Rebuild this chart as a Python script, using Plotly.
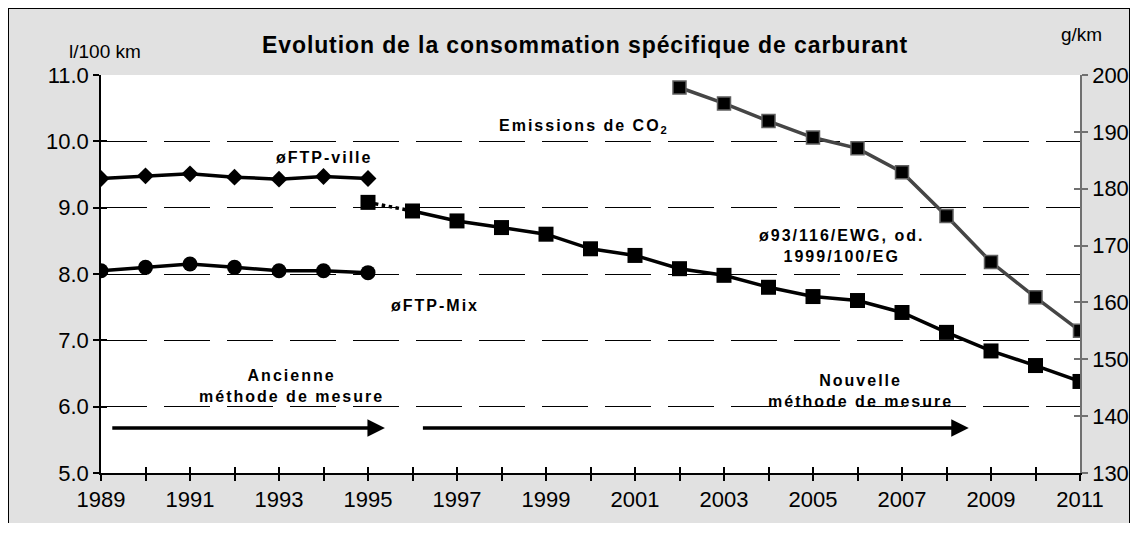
import plotly.graph_objects as go

# --- data ---
years_old = [1989, 1990, 1991, 1992, 1993, 1994, 1995]
ftp_ville = [9.44, 9.48, 9.51, 9.46, 9.43, 9.47, 9.44]
ftp_mix = [8.05, 8.10, 8.15, 8.10, 8.05, 8.05, 8.02]

years_new = list(range(1995, 2012))
conso_new = [9.08, 8.95, 8.80, 8.70, 8.60, 8.38, 8.28, 8.08, 7.98, 7.80,
             7.66, 7.60, 7.42, 7.12, 6.84, 6.62, 6.38]

years_co2 = list(range(2002, 2012))
co2 = [197.8, 195.0, 191.9, 189.0, 187.1, 182.9, 175.2, 167.1, 160.9, 155.0]

FONT = "Liberation Sans, Arial, sans-serif"
GRAY_BG = "#e1e1e1"

# figure sits at (8, 8) in the page; plot area spans 101..1080 x 75..473
W, H = 1122, 515
ML, MR, MT, MB = 93, 50, 67, 50
PW, PH = W - ML - MR, H - MT - MB


def spaced(txt, sp=2.0):
    return f'<span style="letter-spacing:{sp}px"><b>{txt}</b></span>'


fig = go.Figure()

# old method: FTP-ville (diamonds) and FTP-Mix (circles)
fig.add_trace(go.Scatter(
    x=years_old, y=ftp_ville, mode="lines+markers",
    line=dict(color="black", width=3.5),
    marker=dict(symbol="diamond", size=13, color="black"),
))
fig.add_trace(go.Scatter(
    x=years_old, y=ftp_mix, mode="lines+markers",
    line=dict(color="black", width=3.5),
    marker=dict(symbol="circle", size=15, color="black"),
))

# new method: dotted link between the two methods, then solid
fig.add_trace(go.Scatter(
    x=years_new[:2], y=conso_new[:2], mode="lines",
    line=dict(color="black", width=3.5, dash="dot"),
))
fig.add_trace(go.Scatter(
    x=years_new[1:], y=conso_new[1:], mode="lines",
    line=dict(color="black", width=3.5),
))
fig.add_trace(go.Scatter(
    x=years_new, y=conso_new, mode="markers",
    marker=dict(symbol="square", size=15, color="black"),
))

# CO2 emissions on the right axis
fig.add_trace(go.Scatter(
    x=years_co2, y=co2, mode="lines+markers", yaxis="y2",
    line=dict(color="#454545", width=3.5),
    marker=dict(symbol="square", size=13, color="black",
                line=dict(color="#606060", width=1.5)),
))

# empty traces that carry the inner half of the crossing tick marks
fig.add_trace(go.Scatter(x=[], y=[], xaxis="x2", yaxis="y3", hoverinfo="skip"))
fig.add_trace(go.Scatter(x=[], y=[], xaxis="x2", yaxis="y4", hoverinfo="skip"))

annotations = [
    dict(x=1994.0, y=9.76, text=spaced("øFTP-ville")),
    dict(x=1996.5, y=7.52, text=spaced("øFTP-Mix")),
    dict(x=1999.85, y=10.22, text=spaced("Emissions de CO<sub>2</sub>")),
    dict(x=2005.65, y=8.42, text=spaced("ø93/116/EWG, od.<br>1999/100/EG")),
    dict(x=1993.27, y=6.31, text=spaced("Ancienne<br>méthode de mesure")),
    dict(x=2006.06, y=6.24, text=spaced("Nouvelle<br>méthode de mesure")),
]
for a in annotations:
    a.update(xref="x", yref="y", showarrow=False, xanchor="center",
             yanchor="middle", font=dict(family=FONT, size=16, color="black"))

# method arrows
for x0, x1 in [(1989.22, 1995.38), (1996.2, 2008.5)]:
    annotations.append(dict(
        x=x1, y=5.68, ax=x0, ay=5.68, xref="x", yref="y", axref="x", ayref="y",
        text="", showarrow=True, arrowhead=2, arrowsize=1, arrowwidth=3.5,
        arrowcolor="black", standoff=0,
    ))


def px(x):
    return (x - 8 - ML) / PW


def py(y):
    return (8 + MT + PH - y) / PH


# titles
annotations += [
    dict(x=px(585), y=py(45), xref="paper", yref="paper", showarrow=False,
         xanchor="center", yanchor="middle",
         text='<span style="letter-spacing:0.9px"><b>Evolution de la consommation spécifique de carburant</b></span>',
         font=dict(family=FONT, size=23, color="black")),
    dict(x=px(105), y=py(52), xref="paper", yref="paper", showarrow=False,
         xanchor="center", yanchor="middle",
         text="l/100 km", font=dict(family=FONT, size=19, color="black")),
    dict(x=px(1081), y=py(34), xref="paper", yref="paper", showarrow=False,
         xanchor="center", yanchor="middle",
         text="g/km", font=dict(family=FONT, size=19, color="black")),
]

tick = dict(ticklen=6, tickwidth=1.5)

# frame: top, left and right edges of the figure
x_l, x_r, y_t, y_b = px(8), px(8 + W), py(8), py(8 + H)
frame = f"M {x_l} {y_b} L {x_l} {y_t} L {x_r} {y_t} L {x_r} {y_b}"

fig.update_layout(
    width=W, height=H,
    margin=dict(l=ML, r=MR, t=MT, b=MB, autoexpand=False),
    paper_bgcolor=GRAY_BG,
    plot_bgcolor="white",
    showlegend=False,
    font=dict(family=FONT, size=22, color="black"),
    annotations=annotations,
    shapes=[dict(type="path", xref="paper", yref="paper", path=frame,
                 line=dict(color="black", width=2), layer="above")],
    xaxis=dict(
        range=[1989, 2011], tick0=1989, dtick=2, automargin=False,
        showgrid=False, zeroline=False,
        showline=True, linecolor="black", linewidth=1.5,
        ticks="outside", tickcolor="black", **tick,
        minor=dict(dtick=1, ticks="outside", tickcolor="black", **tick),
        tickfont=dict(size=22),
    ),
    xaxis2=dict(
        range=[1989, 2011], tick0=1989, dtick=1, overlaying="x", anchor="y",
        side="bottom", showgrid=False, zeroline=False, showline=False,
        showticklabels=False, ticks="inside", tickcolor="black",
        automargin=False, **tick,
    ),
    yaxis=dict(
        range=[5, 11], tick0=5, dtick=1, tickformat=".1f", automargin=False,
        showgrid=True, gridcolor="black", gridwidth=1, griddash="46px,17px",
        zeroline=False,
        showline=True, linecolor="black", linewidth=1.5,
        ticks="outside", tickcolor="black", **tick,
        tickfont=dict(size=22),
    ),
    yaxis2=dict(
        range=[130, 200], tick0=130, dtick=10, automargin=False,
        overlaying="y", side="right", anchor="x",
        showgrid=False, zeroline=False,
        showline=True, linecolor="#707070", linewidth=1.5,
        ticks="outside", tickcolor="#707070", **tick,
        tickfont=dict(size=22),
    ),
    yaxis3=dict(
        range=[5, 11], tick0=5, dtick=1, overlaying="y", side="left",
        anchor="x2", showgrid=False, zeroline=False, showline=False,
        showticklabels=False, ticks="inside", tickcolor="black",
        automargin=False, **tick,
    ),
    yaxis4=dict(
        range=[130, 200], tick0=130, dtick=10, overlaying="y", side="right",
        anchor="x2", showgrid=False, zeroline=False, showline=False,
        showticklabels=False, ticks="inside", tickcolor="#707070",
        automargin=False, **tick,
    ),
)

fig.write_html("out.html")
